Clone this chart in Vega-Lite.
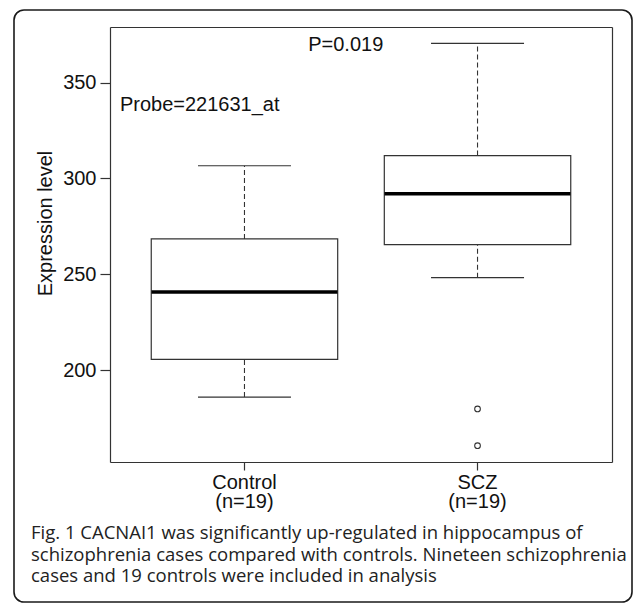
{
  "$schema": "https://vega.github.io/schema/vega-lite/v6.json",
  "autosize": {"type": "none"},
  "padding": {"left": 14, "top": 10, "right": 1, "bottom": 1},
  "width": 618,
  "height": 592,
  "background": "white",
  "view": {"stroke": "#1a1a1a", "strokeWidth": 1.6, "cornerRadius": 10, "fill": "white"},
  "title": {
    "text": ["Fig. 1 CACNAI1 was significantly up-regulated in hippocampus of", "schizophrenia cases compared with controls. Nineteen schizophrenia", "cases and 19 controls were included in analysis"],
    "orient": "bottom",
    "anchor": "start",
    "frame": "group",
    "offset": -63,
    "dx": 17,
    "font": "Open Sans",
    "fontSize": 18.5,
    "fontWeight": "normal",
    "color": "#222",
    "lineHeight": 21.5,
    "baseline": "alphabetic"
  },
  "datasets": {
    "stats": [
      {"group": "Control", "lower": 185.9, "q1": 205.6, "median": 240.7, "q3": 268.4, "upper": 306.6},
      {"group": "SCZ", "lower": 248.2, "q1": 265.4, "median": 292.0, "q3": 311.9, "upper": 370.5}
    ],
    "outliers": [
      {"group": "SCZ", "value": 179.7},
      {"group": "SCZ", "value": 160.5}
    ]
  },
  "config": {
    "axis": {
      "grid": false,
      "labelFont": "Liberation Sans",
      "labelFontSize": 20,
      "labelColor": "#111",
      "titleFont": "Liberation Sans",
      "titleFontSize": 20,
      "titleFontWeight": "normal",
      "titleColor": "#111",
      "domainColor": "#333",
      "domainWidth": 1.2,
      "tickColor": "#333",
      "tickWidth": 1.2
    },
    "text": {"font": "Liberation Sans", "fontSize": 20, "color": "#111"}
  },
  "resolve": {"axis": {"x": "independent", "y": "independent"}},
  "layer": [
    {
      "data": {"name": "stats"},
      "mark": {"type": "bar", "fill": "white", "stroke": "#333", "strokeWidth": 1.2, "opacity": 1},
      "encoding": {
        "x": {
          "field": "group", "type": "nominal",
          "scale": {"type": "band", "domain": ["Control", "SCZ"], "range": [96, 598], "paddingInner": 0.2, "paddingOuter": 0.177},
          "axis": {"orient": "bottom", "offset": -140, "tickSize": 8, "labelPadding": 2, "labelAngle": 0, "labelExpr": "[datum.label, '(n=19)']", "labelLineHeight": 19.5, "title": null}
        },
        "y": {
          "field": "q1", "type": "quantitative",
          "scale": {"domain": [152, 379], "range": [452, 17], "nice": false, "zero": false},
          "axis": {"orient": "left", "offset": -96, "values": [200, 250, 300, 350], "tickSize": 10, "labelPadding": 4, "title": "Expression level", "titleX": -59, "titleY": 213, "titleAngle": 270, "titleAlign": "center", "titleBaseline": "alphabetic"}
        },
        "y2": {"field": "q3"}
      }
    },
    {
      "data": {"name": "stats"},
      "mark": {"type": "rule", "stroke": "#333", "strokeWidth": 1.1, "strokeDash": [5, 3]},
      "encoding": {
        "x": {"field": "group", "type": "nominal", "axis": {"orient": "top", "offset": -17, "labels": false, "ticks": false, "title": null}},
        "y": {"field": "q3", "type": "quantitative", "axis": {"orient": "right", "offset": -20, "labels": false, "ticks": false, "title": null}},
        "y2": {"field": "upper"}
      }
    },
    {
      "data": {"name": "stats"},
      "mark": {"type": "rule", "stroke": "#333", "strokeWidth": 1.1, "strokeDash": [5, 3]},
      "encoding": {
        "x": {"field": "group", "type": "nominal", "axis": null},
        "y": {"field": "lower", "type": "quantitative", "axis": null},
        "y2": {"field": "q1"}
      }
    },
    {
      "data": {"name": "stats"},
      "mark": {"type": "tick", "orient": "horizontal", "size": 93, "thickness": 1.2, "color": "#333", "opacity": 1},
      "encoding": {
        "x": {"field": "group", "type": "nominal", "axis": null},
        "y": {"field": "upper", "type": "quantitative", "axis": null}
      }
    },
    {
      "data": {"name": "stats"},
      "mark": {"type": "tick", "orient": "horizontal", "size": 93, "thickness": 1.2, "color": "#333", "opacity": 1},
      "encoding": {
        "x": {"field": "group", "type": "nominal", "axis": null},
        "y": {"field": "lower", "type": "quantitative", "axis": null}
      }
    },
    {
      "data": {"name": "stats"},
      "mark": {"type": "tick", "orient": "horizontal", "size": 186, "thickness": 3.5, "color": "#000", "opacity": 1},
      "encoding": {
        "x": {"field": "group", "type": "nominal", "axis": null},
        "y": {"field": "median", "type": "quantitative", "axis": null}
      }
    },
    {
      "data": {"name": "outliers"},
      "mark": {"type": "point", "shape": "circle", "filled": false, "size": 32, "stroke": "#333", "strokeWidth": 1.1, "opacity": 1},
      "encoding": {
        "x": {"field": "group", "type": "nominal", "axis": null},
        "y": {"field": "value", "type": "quantitative", "axis": null}
      }
    },
    {
      "data": {"values": [{}]},
      "mark": {"type": "text", "align": "center", "baseline": "alphabetic"},
      "encoding": {
        "x": {"datum": "Control", "type": "nominal", "bandPosition": 1.043, "axis": null},
        "y": {"datum": 366.5, "type": "quantitative", "axis": null},
        "text": {"value": "P=0.019"}
      }
    },
    {
      "data": {"values": [{}]},
      "mark": {"type": "text", "align": "left", "baseline": "alphabetic"},
      "encoding": {
        "x": {"datum": "Control", "type": "nominal", "bandPosition": -0.168, "axis": null},
        "y": {"datum": 335.2, "type": "quantitative", "axis": null},
        "text": {"value": "Probe=221631_at"}
      }
    }
  ]
}
